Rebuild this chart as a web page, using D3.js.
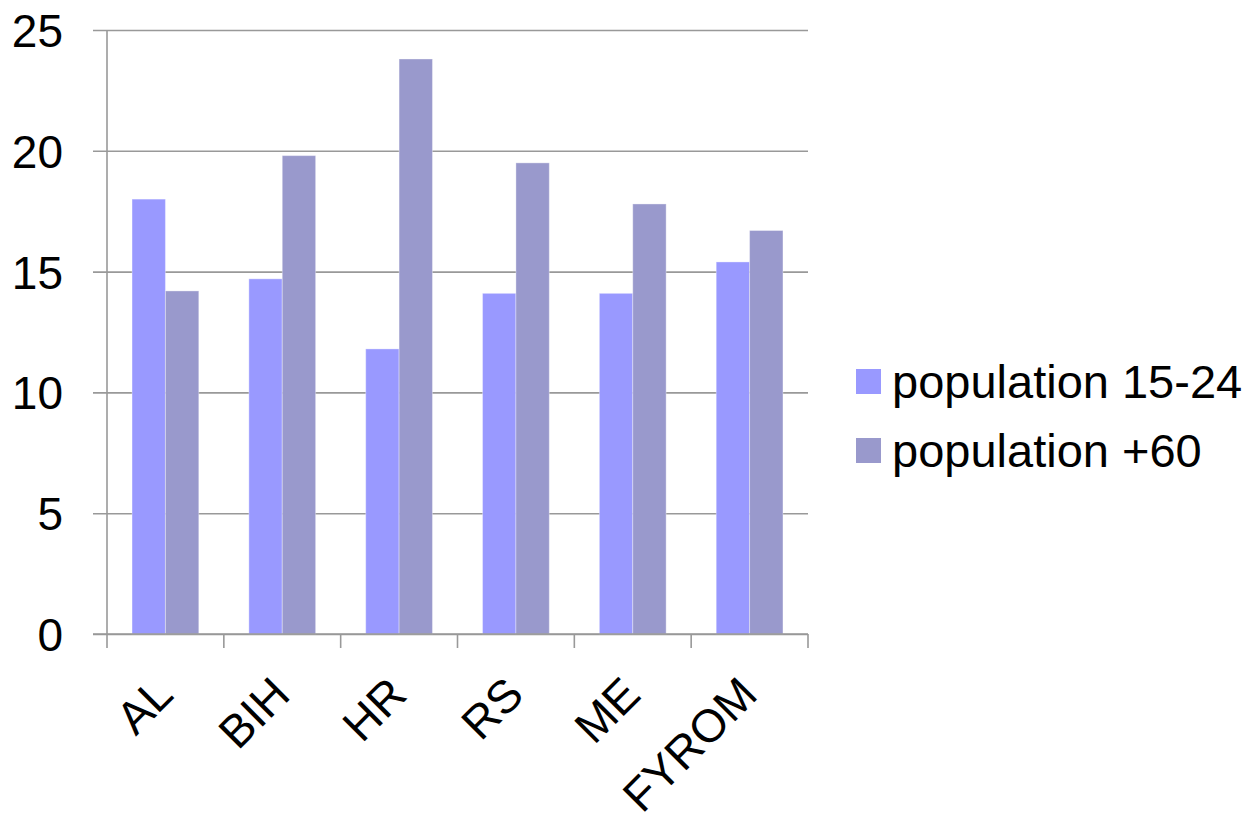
<!DOCTYPE html>
<html>
<head>
<meta charset="utf-8">
<script src="https://cdn.jsdelivr.net/npm/d3@7"></script>
<style>
  html, body { margin: 0; padding: 0; background: #ffffff; }
  svg { display: block; font-family: "Liberation Sans", Arial, sans-serif; }
</style>
</head>
<body>
<svg id="chart" width="1253" height="815"></svg>
<script>
// Share of population by age group, Western Balkans (%)
const countries = ["AL", "BIH", "HR", "RS", "ME", "FYROM"];
const seriesNames = ["population 15-24", "population +60"];
const youth = [18.0, 14.7, 11.8, 14.1, 14.1, 15.4];
const elderly = [14.2, 19.8, 23.8, 19.5, 17.8, 16.7];
const yTicks = [0, 5, 10, 15, 20, 25];
const seriesColors = ["#9999ff", "#9999cc"];

const seriesValues = [youth, elderly];
const rows = countries.map((c, i) => ({
  country: c,
  values: seriesNames.map((s, k) => ({ series: s, value: seriesValues[k][i] }))
}));

const svg = d3.select("#chart");
const plot = { left: 107, right: 808, top: 30, bottom: 634 };

const x = d3.scaleBand().domain(countries).range([plot.left, plot.right]).padding(0);
const xInner = d3.scaleBand().domain(seriesNames).range([0, x.bandwidth()])
  .paddingInner(0).paddingOuter(0.75);
const y = d3.scaleLinear().domain([0, 25]).range([plot.bottom, plot.top]);
const color = d3.scaleOrdinal().domain(seriesNames).range(seriesColors);

// Horizontal gridlines with short tick stubs left of the axis
const yAxis = d3.axisLeft(y).tickValues(yTicks)
  .tickSize(-(plot.right - plot.left)).tickSizeOuter(0).tickPadding(0).tickFormat(d3.format("d"));
const gy = svg.append("g").attr("transform", `translate(${plot.left},0)`).call(yAxis);
gy.select(".domain").remove();
gy.selectAll(".tick line")
  .attr("x1", -14)
  .attr("stroke", "#999999").attr("stroke-width", 1.6);
gy.selectAll(".tick text")
  .attr("x", -44).attr("dy", "0.36em")
  .attr("font-size", 46).attr("fill", "#000")
  .attr("font-family", "'Liberation Sans', Arial, sans-serif");

// Bars
const groups = svg.append("g").selectAll("g").data(rows).join("g")
  .attr("transform", d => `translate(${x(d.country)},0)`);
groups.selectAll("rect").data(d => d.values).join("rect")
  .attr("x", d => xInner(d.series))
  .attr("width", xInner.bandwidth())
  .attr("y", d => y(d.value))
  .attr("height", d => y(0) - y(d.value))
  .attr("fill", d => color(d.series))
  .attr("stroke", "rgba(255,255,255,0.35)")
  .attr("stroke-width", 1);

// Vertical axis line
svg.append("line")
  .attr("x1", plot.left).attr("x2", plot.left)
  .attr("y1", plot.top).attr("y2", plot.bottom)
  .attr("stroke", "#999999").attr("stroke-width", 1.6);

// Category axis: baseline plus ticks at category boundaries
const boundaries = countries.map(c => x(c)).concat([plot.right]);
const gx = svg.append("g");
gx.append("line")
  .attr("x1", plot.left - 14).attr("x2", plot.right)
  .attr("y1", plot.bottom).attr("y2", plot.bottom)
  .attr("stroke", "#999999").attr("stroke-width", 1.6);
gx.selectAll("line.tick").data(boundaries).join("line")
  .attr("class", "tick")
  .attr("x1", d => d).attr("x2", d => d)
  .attr("y1", plot.bottom).attr("y2", plot.bottom + 14)
  .attr("stroke", "#999999").attr("stroke-width", 1.6);
gx.selectAll("text").data(countries).join("text")
  .attr("transform", d => `translate(${x(d) + x.bandwidth() / 2 + 10},697) rotate(-45)`)
  .attr("text-anchor", "end")
  .attr("font-size", 46)
  .attr("fill", "#000")
  .text(d => d);

// Legend
const legend = svg.append("g").attr("transform", "translate(856,369)");
const items = legend.selectAll("g").data(seriesNames).join("g")
  .attr("transform", (d, i) => `translate(0,${i * 69})`);
items.append("rect").attr("width", 25).attr("height", 25).attr("fill", d => color(d));
items.append("text")
  .attr("x", 36).attr("y", 12.5).attr("dy", "0.36em")
  .attr("font-size", 47).attr("fill", "#000")
  .text(d => d);
</script>
</body>
</html>
